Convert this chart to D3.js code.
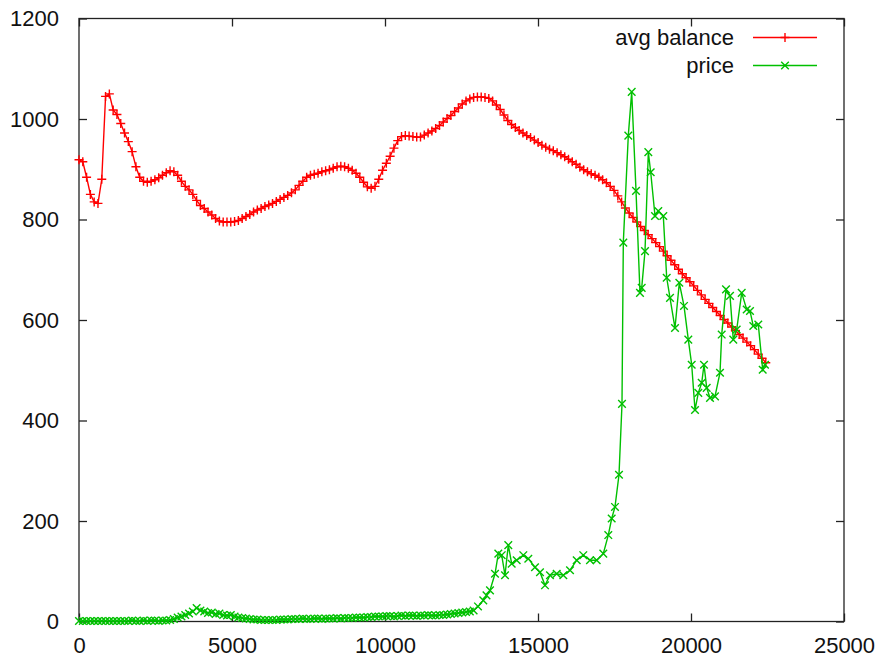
<!DOCTYPE html>
<html>
<head>
<meta charset="utf-8">
<script src="https://cdn.jsdelivr.net/npm/d3@7"></script>
<style>
  body { margin: 0; background: #fff; }
  text { font-family: "Liberation Sans", Arial, sans-serif; }
</style>
</head>
<body>
<div id="chart"></div>
<script>
// avg balance: one value every balanceStep units on x
const balanceStep = 124;
const balance = [
  919, 915, 884, 850, 835, 832, 880, 1045,
  1050, 1018, 1009, 991, 972, 955, 935, 905,
  884, 876, 874, 876, 879, 883, 888, 893,
  897, 895, 888, 876, 866, 859, 850, 838,
  828, 822, 815, 809, 802, 797, 795, 795,
  795, 796, 798, 802, 806, 810, 815, 819,
  822, 826, 829, 832, 836, 840, 844, 848,
  853, 859, 868, 876, 884, 888, 890, 892,
  895, 897, 899, 902, 905, 906, 905, 902,
  898, 892, 884, 874, 865, 862, 866, 880,
  898, 912, 926, 942, 957, 965, 967, 966,
  965, 964, 964, 968, 972, 976, 981, 987,
  994, 1001, 1007, 1015, 1022, 1030, 1036, 1040,
  1043, 1044, 1044, 1043, 1041, 1036, 1028, 1019,
  1008, 997, 989, 983, 977, 972, 967, 963,
  958, 953, 948, 944, 940, 937, 933, 929,
  925, 920, 915, 910, 904, 899, 895, 891,
  888, 884, 879, 873, 866, 858, 847, 835,
  823, 813, 804, 795, 786, 778, 770, 762,
  754, 746, 737, 728, 719, 710, 701, 692,
  684, 676, 668, 659, 650, 641, 633, 625,
  617, 609, 601, 594, 586, 579, 571, 564,
  556, 549, 541, 532, 524, 515
];

// price, early part (same spacing as balance)
const priceEarly = [
  1, 1, 1, 1, 1, 1, 1, 1, 1, 1, 1, 1, 1, 1, 2, 1, 1, 2, 1, 2, 2, 1, 2,
  2, 3, 5, 8, 10, 13, 16, 20, 27, 22, 20, 17, 18, 15, 16, 13, 12, 13, 10, 8, 7, 6, 5,
  4, 4, 3, 3, 3, 3, 3, 4, 4, 4,
  5, 5, 5, 6, 5, 5, 6, 6, 5, 6, 6, 6, 7, 6, 7,
  7, 7, 8, 8, 8, 9, 9, 10, 10,
  10, 11, 11, 10, 11, 12, 11, 12, 12, 11, 12, 12, 13, 12, 12, 13,
  13, 14, 15, 16, 17, 18, 19, 20, 22
];

// price, later part (irregular x)
const priceLateX = [
  13039, 13212, 13317, 13431, 13595, 13703, 13814, 13922, 14029, 14140,
  14304, 14520, 14683, 14902, 15065, 15229, 15392, 15611, 15827, 16046,
  16265, 16480, 16699, 16918, 17134, 17297, 17408, 17516, 17647, 17745,
  17788, 17951, 18062, 18203, 18333, 18389, 18497, 18605, 18683, 18824,
  18931, 19095, 19206, 19314, 19477, 19618, 19771, 19912, 20023, 20131,
  20239, 20350, 20425, 20513, 20621, 20784, 20948, 21003, 21144, 21275,
  21382, 21493, 21657, 21820, 21928, 22036, 22199, 22343, 22418
];
const priceLate = [
  30, 42, 52, 62, 95, 135, 132, 92, 152, 115,
  122, 132, 125, 108, 98, 72, 92, 95, 92, 102,
  122, 132, 122, 122, 135, 172, 205, 228, 292, 433,
  754, 967, 1054, 857, 654, 664, 737, 934, 894, 807,
  817, 807, 684, 644, 584, 674, 628, 561, 511, 421,
  455, 475, 511, 465, 445, 448, 495, 571, 661, 648,
  561, 581, 654, 621, 618, 588, 591, 501, 511
];

const xTicks = [0, 5000, 10000, 15000, 20000, 25000];
const yTicks = [0, 200, 400, 600, 800, 1000, 1200];

const seriesNames = ['avg balance', 'price'];
const seriesColors = ['#ff0000', '#00c000'];

const balanceData = balance.map((v, i) => [i * balanceStep, v]);
const priceData = priceEarly.map((v, i) => [i * balanceStep, v])
  .concat(priceLate.map((v, i) => [priceLateX[i], v]));

const margin = { top: 18.5, right: 38, bottom: 42.5, left: 79 };
const width = 882 - margin.left - margin.right;
const height = 664 - margin.top - margin.bottom;

const svg = d3.select('#chart')
              .append('svg')
              .attr('width', 882)
              .attr('height', 664)
              .append('g')
              .attr('transform', `translate(${margin.left}, ${margin.top})`);

const xScale = d3.scaleLinear().domain([0, 25000]).range([0, width]);
const yScale = d3.scaleLinear().domain([0, 1200]).range([height, 0]);

// gnuplot style: inward ticks on all four sides, labels on bottom/left only
const xAxis = d3.axisBottom(xScale).tickValues(xTicks).tickFormat(d3.format('d'))
                .tickSizeInner(-8).tickSizeOuter(0).tickPadding(16);
const yAxis = d3.axisLeft(yScale).tickValues(yTicks).tickFormat(d3.format('d'))
                .tickSizeInner(-8).tickSizeOuter(0).tickPadding(20);
const xTop = d3.axisTop(xScale).tickValues(xTicks).tickSizeInner(-8).tickSizeOuter(0).tickFormat('');
const yRight = d3.axisRight(yScale).tickValues(yTicks).tickSizeInner(-8).tickSizeOuter(0).tickFormat('');

function styleAxis(g) {
  g.select('.domain').remove();
  g.selectAll('line').attr('stroke', '#222').attr('stroke-width', 1.3);
  g.selectAll('text').attr('fill', '#111').style('font-size', '22px')
   .style('font-family', '"Liberation Sans", Arial, sans-serif');
}

svg.append('g').attr('transform', `translate(0, ${height})`).call(xAxis).call(styleAxis);
svg.append('g').call(yAxis).call(styleAxis);
svg.append('g').call(xTop).call(styleAxis);
svg.append('g').attr('transform', `translate(${width}, 0)`).call(yRight).call(styleAxis);

svg.append('rect')
   .attr('width', width)
   .attr('height', height)
   .attr('fill', 'none')
   .attr('stroke', '#222')
   .attr('stroke-width', 1.3);

const plusPath = 'M-4.5,0H4.5M0,-4.5V4.5';
const crossPath = 'M-3.8,-3.8L3.8,3.8M-3.8,3.8L3.8,-3.8';
const markers = [plusPath, crossPath];

const line = d3.line().x(d => xScale(d[0])).y(d => yScale(d[1]));

[balanceData, priceData].forEach((data, k) => {
  svg.append('path')
     .datum(data)
     .attr('fill', 'none')
     .attr('stroke', seriesColors[k])
     .attr('stroke-width', 1.4)
     .attr('d', line);

  svg.selectAll(`.mark${k}`)
     .data(data)
     .enter()
     .append('path')
     .attr('class', `mark${k}`)
     .attr('transform', d => `translate(${xScale(d[0])}, ${yScale(d[1])})`)
     .attr('d', markers[k])
     .attr('stroke', seriesColors[k])
     .attr('stroke-width', 1.4);
});

// legend
const legend = svg.append('g');
seriesNames.forEach((name, k) => {
  const ly = 19 + k * 28;
  legend.append('text')
        .attr('x', 655)
        .attr('y', ly)
        .attr('dy', '0.35em')
        .attr('text-anchor', 'end')
        .attr('fill', '#111')
        .style('font-size', '22px')
        .text(name);
  legend.append('line')
        .attr('x1', 674).attr('x2', 738)
        .attr('y1', ly).attr('y2', ly)
        .attr('stroke', seriesColors[k])
        .attr('stroke-width', 1.4);
  legend.append('path')
        .attr('transform', `translate(706, ${ly})`)
        .attr('d', markers[k])
        .attr('stroke', seriesColors[k])
        .attr('stroke-width', 1.4);
});
</script>
</body>
</html>
